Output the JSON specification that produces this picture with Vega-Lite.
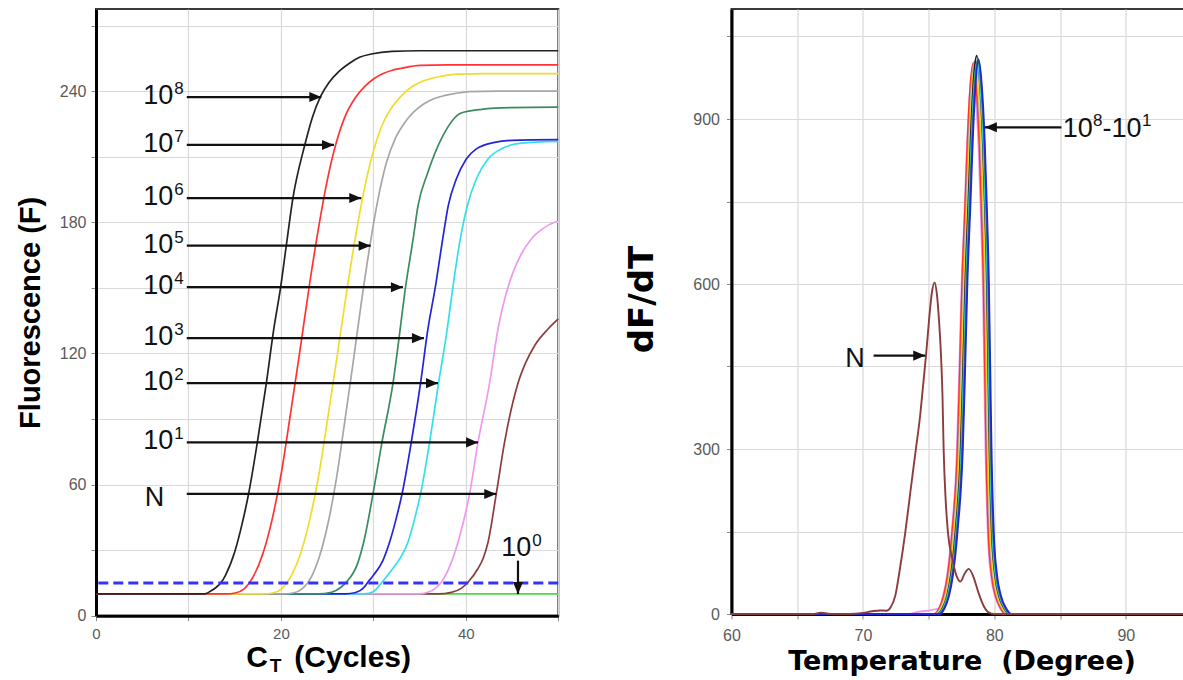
{
  "$schema": "https://vega.github.io/schema/vega-lite/v6.json",
  "background": "white",
  "padding": {"left": 15, "top": 8, "right": 0, "bottom": 0},
  "bounds": "flush",
  "spacing": 172.5,
  "config": {
    "view": {"stroke": "#3a3a3a", "strokeWidth": 2},
    "axis": {
      "labelFont": "Liberation Sans",
      "labelFontSize": 16,
      "labelColor": "#5a5a5a",
      "labelFlush": false,
      "gridColor": "#d9d9d9",
      "gridWidth": 1.2,
      "domainColor": "#000000",
      "domainWidth": 3,
      "tickColor": "#888888",
      "tickSize": 5,
      "tickWidth": 1,
      "titleColor": "#000000",
      "titleFontWeight": "bold"
    }
  },
  "datasets": {
    "amplification": [
      {"sample": "10^0", "cycle": 0, "fluor": 10}, {"sample": "10^0", "cycle": 50, "fluor": 10},

      {"sample": "N", "cycle": 0, "fluor": 10}, {"sample": "N", "cycle": 37, "fluor": 10}, {"sample": "N", "cycle": 38.43, "fluor": 10.7}, {"sample": "N", "cycle": 39.5, "fluor": 12.5}, {"sample": "N", "cycle": 40.23, "fluor": 15.3}, {"sample": "N", "cycle": 41.3, "fluor": 21.5}, {"sample": "N", "cycle": 41.9, "fluor": 26.5}, {"sample": "N", "cycle": 42.4, "fluor": 33.6}, {"sample": "N", "cycle": 43.29, "fluor": 55.7}, {"sample": "N", "cycle": 44.19, "fluor": 79.4}, {"sample": "N", "cycle": 45.64, "fluor": 106.4}, {"sample": "N", "cycle": 46.5, "fluor": 116}, {"sample": "N", "cycle": 47.5, "fluor": 124}, {"sample": "N", "cycle": 48.89, "fluor": 131.2}, {"sample": "N", "cycle": 50, "fluor": 135.8},

      {"sample": "10^1", "cycle": 0, "fluor": 10}, {"sample": "10^1", "cycle": 35, "fluor": 10}, {"sample": "10^1", "cycle": 35.9, "fluor": 10.7}, {"sample": "10^1", "cycle": 36.7, "fluor": 12.5}, {"sample": "10^1", "cycle": 37.35, "fluor": 15.3}, {"sample": "10^1", "cycle": 38.3, "fluor": 23}, {"sample": "10^1", "cycle": 39.15, "fluor": 33.6}, {"sample": "10^1", "cycle": 39.8, "fluor": 44}, {"sample": "10^1", "cycle": 40.4, "fluor": 55.7}, {"sample": "10^1", "cycle": 41.32, "fluor": 79.4}, {"sample": "10^1", "cycle": 42.57, "fluor": 106.4}, {"sample": "10^1", "cycle": 43.48, "fluor": 131.2}, {"sample": "10^1", "cycle": 44.02, "fluor": 141.8}, {"sample": "10^1", "cycle": 45.1, "fluor": 157.1}, {"sample": "10^1", "cycle": 46, "fluor": 165.5}, {"sample": "10^1", "cycle": 47.08, "fluor": 172.4}, {"sample": "10^1", "cycle": 48.3, "fluor": 177}, {"sample": "10^1", "cycle": 49.6, "fluor": 180}, {"sample": "10^1", "cycle": 50, "fluor": 180.5},

      {"sample": "10^2", "cycle": 0, "fluor": 10}, {"sample": "10^2", "cycle": 29, "fluor": 10}, {"sample": "10^2", "cycle": 30, "fluor": 11}, {"sample": "10^2", "cycle": 30.93, "fluor": 15.3}, {"sample": "10^2", "cycle": 32, "fluor": 21}, {"sample": "10^2", "cycle": 33, "fluor": 27}, {"sample": "10^2", "cycle": 33.74, "fluor": 33.6}, {"sample": "10^2", "cycle": 34.5, "fluor": 45}, {"sample": "10^2", "cycle": 35.1, "fluor": 55.7}, {"sample": "10^2", "cycle": 36.08, "fluor": 79.4}, {"sample": "10^2", "cycle": 37.05, "fluor": 106.4}, {"sample": "10^2", "cycle": 37.99, "fluor": 131.2}, {"sample": "10^2", "cycle": 38.6, "fluor": 150.3}, {"sample": "10^2", "cycle": 39.4, "fluor": 172.4}, {"sample": "10^2", "cycle": 40.16, "fluor": 187.6}, {"sample": "10^2", "cycle": 41.13, "fluor": 199.8}, {"sample": "10^2", "cycle": 42.4, "fluor": 209}, {"sample": "10^2", "cycle": 43.8, "fluor": 213.5}, {"sample": "10^2", "cycle": 46, "fluor": 216.2}, {"sample": "10^2", "cycle": 50, "fluor": 217},

      {"sample": "10^3", "cycle": 0, "fluor": 10}, {"sample": "10^3", "cycle": 27, "fluor": 10}, {"sample": "10^3", "cycle": 28, "fluor": 10.5}, {"sample": "10^3", "cycle": 29, "fluor": 13}, {"sample": "10^3", "cycle": 29.4, "fluor": 15.3}, {"sample": "10^3", "cycle": 30, "fluor": 18.5}, {"sample": "10^3", "cycle": 31, "fluor": 25}, {"sample": "10^3", "cycle": 31.75, "fluor": 33.6}, {"sample": "10^3", "cycle": 32.5, "fluor": 45}, {"sample": "10^3", "cycle": 33.1, "fluor": 55.7}, {"sample": "10^3", "cycle": 34.1, "fluor": 79.4}, {"sample": "10^3", "cycle": 35.1, "fluor": 106.4}, {"sample": "10^3", "cycle": 35.9, "fluor": 131.2}, {"sample": "10^3", "cycle": 36.7, "fluor": 150.3}, {"sample": "10^3", "cycle": 37.5, "fluor": 172.4}, {"sample": "10^3", "cycle": 38.1, "fluor": 187.6}, {"sample": "10^3", "cycle": 38.97, "fluor": 199.8}, {"sample": "10^3", "cycle": 40.05, "fluor": 209}, {"sample": "10^3", "cycle": 41.1, "fluor": 213.5}, {"sample": "10^3", "cycle": 43.1, "fluor": 216.6}, {"sample": "10^3", "cycle": 45, "fluor": 217.5}, {"sample": "10^3", "cycle": 50, "fluor": 217.8},

      {"sample": "10^4", "cycle": 0, "fluor": 10}, {"sample": "10^4", "cycle": 24, "fluor": 10}, {"sample": "10^4", "cycle": 25.45, "fluor": 10.7}, {"sample": "10^4", "cycle": 26.5, "fluor": 13}, {"sample": "10^4", "cycle": 27.07, "fluor": 15.3}, {"sample": "10^4", "cycle": 28.34, "fluor": 24.4}, {"sample": "10^4", "cycle": 28.95, "fluor": 33.6}, {"sample": "10^4", "cycle": 29.96, "fluor": 55.7}, {"sample": "10^4", "cycle": 30.93, "fluor": 79.4}, {"sample": "10^4", "cycle": 32.12, "fluor": 106.4}, {"sample": "10^4", "cycle": 32.9, "fluor": 131.2}, {"sample": "10^4", "cycle": 33.4, "fluor": 148}, {"sample": "10^4", "cycle": 34.3, "fluor": 172.4}, {"sample": "10^4", "cycle": 34.83, "fluor": 187.6}, {"sample": "10^4", "cycle": 35.9, "fluor": 202.9}, {"sample": "10^4", "cycle": 37.5, "fluor": 219.4}, {"sample": "10^4", "cycle": 39.5, "fluor": 230}, {"sample": "10^4", "cycle": 41.7, "fluor": 231.7}, {"sample": "10^4", "cycle": 45, "fluor": 232.5}, {"sample": "10^4", "cycle": 50, "fluor": 232.7},

      {"sample": "10^5", "cycle": 0, "fluor": 10}, {"sample": "10^5", "cycle": 20.3, "fluor": 10}, {"sample": "10^5", "cycle": 21.3, "fluor": 10.4}, {"sample": "10^5", "cycle": 22.3, "fluor": 12.3}, {"sample": "10^5", "cycle": 23.3, "fluor": 17.8}, {"sample": "10^5", "cycle": 24.2, "fluor": 27.5}, {"sample": "10^5", "cycle": 25.1, "fluor": 42.4}, {"sample": "10^5", "cycle": 26.0, "fluor": 62.7}, {"sample": "10^5", "cycle": 26.9, "fluor": 88.7}, {"sample": "10^5", "cycle": 27.8, "fluor": 115.6}, {"sample": "10^5", "cycle": 28.7, "fluor": 143.4}, {"sample": "10^5", "cycle": 29.6, "fluor": 168.7}, {"sample": "10^5", "cycle": 30.5, "fluor": 190.6}, {"sample": "10^5", "cycle": 31.4, "fluor": 207.1}, {"sample": "10^5", "cycle": 32.4, "fluor": 218.6}, {"sample": "10^5", "cycle": 33.4, "fluor": 225.7}, {"sample": "10^5", "cycle": 34.4, "fluor": 230.6}, {"sample": "10^5", "cycle": 35.4, "fluor": 234.0}, {"sample": "10^5", "cycle": 36.4, "fluor": 236.3}, {"sample": "10^5", "cycle": 37.4, "fluor": 237.7}, {"sample": "10^5", "cycle": 38.4, "fluor": 238.6}, {"sample": "10^5", "cycle": 40.4, "fluor": 239.8}, {"sample": "10^5", "cycle": 43.4, "fluor": 240}, {"sample": "10^5", "cycle": 50, "fluor": 240},

      {"sample": "10^6", "cycle": 0, "fluor": 10}, {"sample": "10^6", "cycle": 18.1, "fluor": 10}, {"sample": "10^6", "cycle": 19.1, "fluor": 10.4}, {"sample": "10^6", "cycle": 20.1, "fluor": 12.4}, {"sample": "10^6", "cycle": 21.1, "fluor": 18.1}, {"sample": "10^6", "cycle": 22.1, "fluor": 28.1}, {"sample": "10^6", "cycle": 23.1, "fluor": 43.6}, {"sample": "10^6", "cycle": 24.1, "fluor": 64.5}, {"sample": "10^6", "cycle": 25.1, "fluor": 91.4}, {"sample": "10^6", "cycle": 26.1, "fluor": 119.2}, {"sample": "10^6", "cycle": 27.1, "fluor": 148.0}, {"sample": "10^6", "cycle": 28.1, "fluor": 174.2}, {"sample": "10^6", "cycle": 29.1, "fluor": 196.8}, {"sample": "10^6", "cycle": 30.1, "fluor": 214.0}, {"sample": "10^6", "cycle": 31.1, "fluor": 225.9}, {"sample": "10^6", "cycle": 32.1, "fluor": 233.2}, {"sample": "10^6", "cycle": 33.1, "fluor": 238.2}, {"sample": "10^6", "cycle": 34.1, "fluor": 241.8}, {"sample": "10^6", "cycle": 35.1, "fluor": 244.2}, {"sample": "10^6", "cycle": 36.1, "fluor": 245.6}, {"sample": "10^6", "cycle": 37.1, "fluor": 246.6}, {"sample": "10^6", "cycle": 39.1, "fluor": 247.8}, {"sample": "10^6", "cycle": 42.1, "fluor": 248}, {"sample": "10^6", "cycle": 50, "fluor": 248},

      {"sample": "10^7", "cycle": 0, "fluor": 10}, {"sample": "10^7", "cycle": 14.05, "fluor": 10}, {"sample": "10^7", "cycle": 15.05, "fluor": 10.4}, {"sample": "10^7", "cycle": 16.05, "fluor": 12.4}, {"sample": "10^7", "cycle": 17.05, "fluor": 18.2}, {"sample": "10^7", "cycle": 18.05, "fluor": 28.4}, {"sample": "10^7", "cycle": 19.05, "fluor": 44.1}, {"sample": "10^7", "cycle": 20.05, "fluor": 65.4}, {"sample": "10^7", "cycle": 21.05, "fluor": 92.8}, {"sample": "10^7", "cycle": 22.05, "fluor": 121.1}, {"sample": "10^7", "cycle": 23.05, "fluor": 150.4}, {"sample": "10^7", "cycle": 24.05, "fluor": 177.0}, {"sample": "10^7", "cycle": 25.05, "fluor": 200.0}, {"sample": "10^7", "cycle": 26.05, "fluor": 217.4}, {"sample": "10^7", "cycle": 27.05, "fluor": 229.5}, {"sample": "10^7", "cycle": 28.05, "fluor": 237.0}, {"sample": "10^7", "cycle": 29.05, "fluor": 242.1}, {"sample": "10^7", "cycle": 30.05, "fluor": 245.7}, {"sample": "10^7", "cycle": 31.05, "fluor": 248.1}, {"sample": "10^7", "cycle": 32.05, "fluor": 249.6}, {"sample": "10^7", "cycle": 33.05, "fluor": 250.5}, {"sample": "10^7", "cycle": 35.05, "fluor": 251.8}, {"sample": "10^7", "cycle": 38.05, "fluor": 252}, {"sample": "10^7", "cycle": 50, "fluor": 252},

      {"sample": "10^8", "cycle": 0, "fluor": 10}, {"sample": "10^8", "cycle": 11, "fluor": 10}, {"sample": "10^8", "cycle": 11.75, "fluor": 10}, {"sample": "10^8", "cycle": 12.5, "fluor": 11.5}, {"sample": "10^8", "cycle": 13, "fluor": 13}, {"sample": "10^8", "cycle": 13.55, "fluor": 15.3}, {"sample": "10^8", "cycle": 14, "fluor": 18.5}, {"sample": "10^8", "cycle": 14.99, "fluor": 29}, {"sample": "10^8", "cycle": 15.8, "fluor": 42}, {"sample": "10^8", "cycle": 16.5, "fluor": 55.7}, {"sample": "10^8", "cycle": 17.45, "fluor": 79.3}, {"sample": "10^8", "cycle": 18.42, "fluor": 106.3}, {"sample": "10^8", "cycle": 19.23, "fluor": 131.2}, {"sample": "10^8", "cycle": 19.97, "fluor": 150.3}, {"sample": "10^8", "cycle": 20.58, "fluor": 169.3}, {"sample": "10^8", "cycle": 21.31, "fluor": 191.4}, {"sample": "10^8", "cycle": 22.56, "fluor": 215}, {"sample": "10^8", "cycle": 23.4, "fluor": 228}, {"sample": "10^8", "cycle": 24.29, "fluor": 237.6}, {"sample": "10^8", "cycle": 25.2, "fluor": 244}, {"sample": "10^8", "cycle": 26.17, "fluor": 248.6}, {"sample": "10^8", "cycle": 27.5, "fluor": 253}, {"sample": "10^8", "cycle": 28.5, "fluor": 255.5}, {"sample": "10^8", "cycle": 29.78, "fluor": 257}, {"sample": "10^8", "cycle": 32, "fluor": 258.2}, {"sample": "10^8", "cycle": 35, "fluor": 258.5}, {"sample": "10^8", "cycle": 50, "fluor": 258.5}
    ],
    "threshold": [{"fluor": 15}],
    "ampArrows": [
      {"cycle": 9.82, "fluor": 237.3, "cycleEnd": 24.37, "fluorEnd": 237.3, "dir": "right"},
      {"cycle": 9.82, "fluor": 215.4, "cycleEnd": 25.74, "fluorEnd": 215.4, "dir": "right"},
      {"cycle": 9.82, "fluor": 191.1, "cycleEnd": 28.69, "fluorEnd": 191.1, "dir": "right"},
      {"cycle": 9.82, "fluor": 169.3, "cycleEnd": 29.7, "fluorEnd": 169.3, "dir": "right"},
      {"cycle": 9.82, "fluor": 150.3, "cycleEnd": 33.2, "fluorEnd": 150.3, "dir": "right"},
      {"cycle": 9.82, "fluor": 127.0, "cycleEnd": 35.47, "fluorEnd": 127.0, "dir": "right"},
      {"cycle": 9.82, "fluor": 106.4, "cycleEnd": 36.99, "fluorEnd": 106.4, "dir": "right"},
      {"cycle": 9.82, "fluor": 79.3, "cycleEnd": 41.32, "fluorEnd": 79.3, "dir": "right"},
      {"cycle": 9.82, "fluor": 55.7, "cycleEnd": 43.29, "fluorEnd": 55.7, "dir": "right"},
      {"cycle": 45.64, "fluor": 25.2, "cycleEnd": 45.64, "fluorEnd": 9.9, "dir": "down"}
    ],
    "ampText": [
      {"kind": "base", "text": "10", "cycle": 5.12, "fluor": 234.1}, {"kind": "sup", "text": "8", "cycle": 8.47, "fluor": 238.7},
      {"kind": "base", "text": "10", "cycle": 5.12, "fluor": 212.2}, {"kind": "sup", "text": "7", "cycle": 8.47, "fluor": 216.8},
      {"kind": "base", "text": "10", "cycle": 5.12, "fluor": 187.9}, {"kind": "sup", "text": "6", "cycle": 8.47, "fluor": 192.5},
      {"kind": "base", "text": "10", "cycle": 5.12, "fluor": 166.1}, {"kind": "sup", "text": "5", "cycle": 8.47, "fluor": 170.7},
      {"kind": "base", "text": "10", "cycle": 5.12, "fluor": 147.1}, {"kind": "sup", "text": "4", "cycle": 8.47, "fluor": 151.7},
      {"kind": "base", "text": "10", "cycle": 5.12, "fluor": 123.8}, {"kind": "sup", "text": "3", "cycle": 8.47, "fluor": 128.4},
      {"kind": "base", "text": "10", "cycle": 5.12, "fluor": 103.2}, {"kind": "sup", "text": "2", "cycle": 8.47, "fluor": 107.8},
      {"kind": "base", "text": "10", "cycle": 5.12, "fluor": 76.1}, {"kind": "sup", "text": "1", "cycle": 8.47, "fluor": 80.7},
      {"kind": "base", "text": "N", "cycle": 5.28, "fluor": 50.3},
      {"kind": "base", "text": "10", "cycle": 43.83, "fluor": 27.45}, {"kind": "sup", "text": "0", "cycle": 47.19, "fluor": 32.0},
      {"kind": "title", "text": "C", "cycle": 16.26, "fluor": -23.5},
      {"kind": "sub", "text": "T", "cycle": 18.8, "fluor": -25.8},
      {"kind": "title", "text": "(Cycles)", "cycle": 21.45, "fluor": -23.5}
    ],
    "melt": [
      {"run": "10^1", "temp": 60, "dfdt": 0}, {"run": "10^1", "temp": 73.5, "dfdt": 0}, {"run": "10^1", "temp": 74.2, "dfdt": 4}, {"run": "10^1", "temp": 74.9, "dfdt": 6}, {"run": "10^1", "temp": 75.35, "dfdt": 8}, {"run": "10^1", "temp": 75.75, "dfdt": 10}, {"run": "10^1", "temp": 76.1, "dfdt": 33}, {"run": "10^1", "temp": 76.4, "dfdt": 69}, {"run": "10^1", "temp": 76.75, "dfdt": 148}, {"run": "10^1", "temp": 77.15, "dfdt": 296}, {"run": "10^1", "temp": 77.3, "dfdt": 414}, {"run": "10^1", "temp": 77.5, "dfdt": 591}, {"run": "10^1", "temp": 77.73, "dfdt": 729}, {"run": "10^1", "temp": 77.9, "dfdt": 837}, {"run": "10^1", "temp": 78.13, "dfdt": 946}, {"run": "10^1", "temp": 78.35, "dfdt": 985}, {"run": "10^1", "temp": 78.57, "dfdt": 946}, {"run": "10^1", "temp": 78.82, "dfdt": 837}, {"run": "10^1", "temp": 78.97, "dfdt": 729}, {"run": "10^1", "temp": 79.13, "dfdt": 591}, {"run": "10^1", "temp": 79.25, "dfdt": 414}, {"run": "10^1", "temp": 79.33, "dfdt": 296}, {"run": "10^1", "temp": 79.5, "dfdt": 148}, {"run": "10^1", "temp": 79.75, "dfdt": 69}, {"run": "10^1", "temp": 80.05, "dfdt": 33}, {"run": "10^1", "temp": 80.45, "dfdt": 10}, {"run": "10^1", "temp": 80.85, "dfdt": 0}, {"run": "10^1", "temp": 95, "dfdt": 0},

      {"run": "10^7", "temp": 60, "dfdt": 0}, {"run": "10^7", "temp": 75.4, "dfdt": 0}, {"run": "10^7", "temp": 75.8, "dfdt": 10}, {"run": "10^7", "temp": 76.15, "dfdt": 33}, {"run": "10^7", "temp": 76.45, "dfdt": 70}, {"run": "10^7", "temp": 76.8, "dfdt": 150}, {"run": "10^7", "temp": 77.2, "dfdt": 301}, {"run": "10^7", "temp": 77.35, "dfdt": 421}, {"run": "10^7", "temp": 77.55, "dfdt": 601}, {"run": "10^7", "temp": 77.78, "dfdt": 741}, {"run": "10^7", "temp": 77.95, "dfdt": 852}, {"run": "10^7", "temp": 78.18, "dfdt": 962}, {"run": "10^7", "temp": 78.4, "dfdt": 1002}, {"run": "10^7", "temp": 78.62, "dfdt": 962}, {"run": "10^7", "temp": 78.87, "dfdt": 852}, {"run": "10^7", "temp": 79.02, "dfdt": 741}, {"run": "10^7", "temp": 79.18, "dfdt": 601}, {"run": "10^7", "temp": 79.3, "dfdt": 421}, {"run": "10^7", "temp": 79.38, "dfdt": 301}, {"run": "10^7", "temp": 79.55, "dfdt": 150}, {"run": "10^7", "temp": 79.8, "dfdt": 70}, {"run": "10^7", "temp": 80.1, "dfdt": 33}, {"run": "10^7", "temp": 80.5, "dfdt": 10}, {"run": "10^7", "temp": 80.9, "dfdt": 0}, {"run": "10^7", "temp": 95, "dfdt": 0},

      {"run": "10^5", "temp": 60, "dfdt": 0}, {"run": "10^5", "temp": 75.5, "dfdt": 0}, {"run": "10^5", "temp": 75.9, "dfdt": 10}, {"run": "10^5", "temp": 76.25, "dfdt": 33}, {"run": "10^5", "temp": 76.55, "dfdt": 70}, {"run": "10^5", "temp": 76.9, "dfdt": 151}, {"run": "10^5", "temp": 77.3, "dfdt": 302}, {"run": "10^5", "temp": 77.45, "dfdt": 422}, {"run": "10^5", "temp": 77.65, "dfdt": 603}, {"run": "10^5", "temp": 77.88, "dfdt": 744}, {"run": "10^5", "temp": 78.05, "dfdt": 854}, {"run": "10^5", "temp": 78.28, "dfdt": 965}, {"run": "10^5", "temp": 78.5, "dfdt": 1005}, {"run": "10^5", "temp": 78.72, "dfdt": 965}, {"run": "10^5", "temp": 78.97, "dfdt": 854}, {"run": "10^5", "temp": 79.12, "dfdt": 744}, {"run": "10^5", "temp": 79.28, "dfdt": 603}, {"run": "10^5", "temp": 79.4, "dfdt": 422}, {"run": "10^5", "temp": 79.48, "dfdt": 302}, {"run": "10^5", "temp": 79.65, "dfdt": 151}, {"run": "10^5", "temp": 79.9, "dfdt": 70}, {"run": "10^5", "temp": 80.2, "dfdt": 33}, {"run": "10^5", "temp": 80.6, "dfdt": 10}, {"run": "10^5", "temp": 81.0, "dfdt": 0}, {"run": "10^5", "temp": 95, "dfdt": 0},

      {"run": "10^6", "temp": 60, "dfdt": 0}, {"run": "10^6", "temp": 75.55, "dfdt": 0}, {"run": "10^6", "temp": 75.95, "dfdt": 10}, {"run": "10^6", "temp": 76.3, "dfdt": 33}, {"run": "10^6", "temp": 76.6, "dfdt": 70}, {"run": "10^6", "temp": 76.95, "dfdt": 150}, {"run": "10^6", "temp": 77.35, "dfdt": 300}, {"run": "10^6", "temp": 77.5, "dfdt": 420}, {"run": "10^6", "temp": 77.7, "dfdt": 600}, {"run": "10^6", "temp": 77.93, "dfdt": 740}, {"run": "10^6", "temp": 78.1, "dfdt": 850}, {"run": "10^6", "temp": 78.33, "dfdt": 960}, {"run": "10^6", "temp": 78.55, "dfdt": 1000}, {"run": "10^6", "temp": 78.77, "dfdt": 960}, {"run": "10^6", "temp": 79.02, "dfdt": 850}, {"run": "10^6", "temp": 79.17, "dfdt": 740}, {"run": "10^6", "temp": 79.33, "dfdt": 600}, {"run": "10^6", "temp": 79.45, "dfdt": 420}, {"run": "10^6", "temp": 79.53, "dfdt": 300}, {"run": "10^6", "temp": 79.7, "dfdt": 150}, {"run": "10^6", "temp": 79.95, "dfdt": 70}, {"run": "10^6", "temp": 80.25, "dfdt": 33}, {"run": "10^6", "temp": 80.65, "dfdt": 10}, {"run": "10^6", "temp": 81.05, "dfdt": 0}, {"run": "10^6", "temp": 95, "dfdt": 0},

      {"run": "10^8", "temp": 60, "dfdt": 0}, {"run": "10^8", "temp": 75.65, "dfdt": 0}, {"run": "10^8", "temp": 76.05, "dfdt": 10}, {"run": "10^8", "temp": 76.4, "dfdt": 33}, {"run": "10^8", "temp": 76.7, "dfdt": 71}, {"run": "10^8", "temp": 77.05, "dfdt": 152}, {"run": "10^8", "temp": 77.45, "dfdt": 305}, {"run": "10^8", "temp": 77.6, "dfdt": 426}, {"run": "10^8", "temp": 77.8, "dfdt": 609}, {"run": "10^8", "temp": 78.03, "dfdt": 751}, {"run": "10^8", "temp": 78.2, "dfdt": 863}, {"run": "10^8", "temp": 78.43, "dfdt": 974}, {"run": "10^8", "temp": 78.65, "dfdt": 1015}, {"run": "10^8", "temp": 78.87, "dfdt": 974}, {"run": "10^8", "temp": 79.12, "dfdt": 863}, {"run": "10^8", "temp": 79.27, "dfdt": 751}, {"run": "10^8", "temp": 79.43, "dfdt": 609}, {"run": "10^8", "temp": 79.55, "dfdt": 426}, {"run": "10^8", "temp": 79.63, "dfdt": 305}, {"run": "10^8", "temp": 79.8, "dfdt": 152}, {"run": "10^8", "temp": 80.05, "dfdt": 71}, {"run": "10^8", "temp": 80.35, "dfdt": 33}, {"run": "10^8", "temp": 80.75, "dfdt": 10}, {"run": "10^8", "temp": 81.15, "dfdt": 0}, {"run": "10^8", "temp": 95, "dfdt": 0},

      {"run": "10^2", "temp": 60, "dfdt": 0}, {"run": "10^2", "temp": 75.7, "dfdt": 0}, {"run": "10^2", "temp": 76.1, "dfdt": 10}, {"run": "10^2", "temp": 76.45, "dfdt": 33}, {"run": "10^2", "temp": 76.75, "dfdt": 70}, {"run": "10^2", "temp": 77.1, "dfdt": 150}, {"run": "10^2", "temp": 77.5, "dfdt": 301}, {"run": "10^2", "temp": 77.65, "dfdt": 421}, {"run": "10^2", "temp": 77.85, "dfdt": 602}, {"run": "10^2", "temp": 78.08, "dfdt": 742}, {"run": "10^2", "temp": 78.25, "dfdt": 853}, {"run": "10^2", "temp": 78.48, "dfdt": 963}, {"run": "10^2", "temp": 78.7, "dfdt": 1003}, {"run": "10^2", "temp": 78.92, "dfdt": 963}, {"run": "10^2", "temp": 79.17, "dfdt": 853}, {"run": "10^2", "temp": 79.32, "dfdt": 742}, {"run": "10^2", "temp": 79.48, "dfdt": 602}, {"run": "10^2", "temp": 79.6, "dfdt": 421}, {"run": "10^2", "temp": 79.68, "dfdt": 301}, {"run": "10^2", "temp": 79.85, "dfdt": 150}, {"run": "10^2", "temp": 80.1, "dfdt": 70}, {"run": "10^2", "temp": 80.4, "dfdt": 33}, {"run": "10^2", "temp": 80.8, "dfdt": 10}, {"run": "10^2", "temp": 81.2, "dfdt": 0}, {"run": "10^2", "temp": 95, "dfdt": 0},

      {"run": "10^4", "temp": 60, "dfdt": 0}, {"run": "10^4", "temp": 75.75, "dfdt": 0}, {"run": "10^4", "temp": 76.15, "dfdt": 10}, {"run": "10^4", "temp": 76.5, "dfdt": 33}, {"run": "10^4", "temp": 76.8, "dfdt": 71}, {"run": "10^4", "temp": 77.15, "dfdt": 152}, {"run": "10^4", "temp": 77.55, "dfdt": 303}, {"run": "10^4", "temp": 77.7, "dfdt": 424}, {"run": "10^4", "temp": 77.9, "dfdt": 606}, {"run": "10^4", "temp": 78.13, "dfdt": 747}, {"run": "10^4", "temp": 78.3, "dfdt": 859}, {"run": "10^4", "temp": 78.53, "dfdt": 970}, {"run": "10^4", "temp": 78.75, "dfdt": 1010}, {"run": "10^4", "temp": 78.97, "dfdt": 970}, {"run": "10^4", "temp": 79.22, "dfdt": 859}, {"run": "10^4", "temp": 79.37, "dfdt": 747}, {"run": "10^4", "temp": 79.53, "dfdt": 606}, {"run": "10^4", "temp": 79.65, "dfdt": 424}, {"run": "10^4", "temp": 79.73, "dfdt": 303}, {"run": "10^4", "temp": 79.9, "dfdt": 152}, {"run": "10^4", "temp": 80.15, "dfdt": 71}, {"run": "10^4", "temp": 80.45, "dfdt": 33}, {"run": "10^4", "temp": 80.85, "dfdt": 10}, {"run": "10^4", "temp": 81.25, "dfdt": 0}, {"run": "10^4", "temp": 95, "dfdt": 0},

      {"run": "10^3", "temp": 60, "dfdt": 0}, {"run": "10^3", "temp": 75.8, "dfdt": 0}, {"run": "10^3", "temp": 76.2, "dfdt": 10}, {"run": "10^3", "temp": 76.55, "dfdt": 33}, {"run": "10^3", "temp": 76.85, "dfdt": 71}, {"run": "10^3", "temp": 77.2, "dfdt": 151}, {"run": "10^3", "temp": 77.6, "dfdt": 302}, {"run": "10^3", "temp": 77.75, "dfdt": 423}, {"run": "10^3", "temp": 77.95, "dfdt": 605}, {"run": "10^3", "temp": 78.18, "dfdt": 746}, {"run": "10^3", "temp": 78.35, "dfdt": 857}, {"run": "10^3", "temp": 78.58, "dfdt": 968}, {"run": "10^3", "temp": 78.8, "dfdt": 1008}, {"run": "10^3", "temp": 79.02, "dfdt": 968}, {"run": "10^3", "temp": 79.27, "dfdt": 857}, {"run": "10^3", "temp": 79.42, "dfdt": 746}, {"run": "10^3", "temp": 79.58, "dfdt": 605}, {"run": "10^3", "temp": 79.7, "dfdt": 423}, {"run": "10^3", "temp": 79.78, "dfdt": 302}, {"run": "10^3", "temp": 79.95, "dfdt": 151}, {"run": "10^3", "temp": 80.2, "dfdt": 71}, {"run": "10^3", "temp": 80.5, "dfdt": 33}, {"run": "10^3", "temp": 80.9, "dfdt": 10}, {"run": "10^3", "temp": 81.3, "dfdt": 0}, {"run": "10^3", "temp": 95, "dfdt": 0},

      {"run": "N", "temp": 60, "dfdt": 0}, {"run": "N", "temp": 66.2, "dfdt": 0}, {"run": "N", "temp": 66.8, "dfdt": 2.5}, {"run": "N", "temp": 67.5, "dfdt": 0.3}, {"run": "N", "temp": 69, "dfdt": 0}, {"run": "N", "temp": 70, "dfdt": 2}, {"run": "N", "temp": 70.7, "dfdt": 5}, {"run": "N", "temp": 71.3, "dfdt": 6.5}, {"run": "N", "temp": 71.8, "dfdt": 6}, {"run": "N", "temp": 72.1, "dfdt": 12}, {"run": "N", "temp": 72.46, "dfdt": 33}, {"run": "N", "temp": 72.8, "dfdt": 80}, {"run": "N", "temp": 73.22, "dfdt": 148}, {"run": "N", "temp": 73.6, "dfdt": 220}, {"run": "N", "temp": 74.03, "dfdt": 300}, {"run": "N", "temp": 74.35, "dfdt": 360}, {"run": "N", "temp": 74.6, "dfdt": 421}, {"run": "N", "temp": 74.8, "dfdt": 470}, {"run": "N", "temp": 75.05, "dfdt": 540}, {"run": "N", "temp": 75.25, "dfdt": 585}, {"run": "N", "temp": 75.45, "dfdt": 603}, {"run": "N", "temp": 75.62, "dfdt": 583}, {"run": "N", "temp": 75.8, "dfdt": 530}, {"run": "N", "temp": 75.95, "dfdt": 465}, {"run": "N", "temp": 76.05, "dfdt": 400}, {"run": "N", "temp": 76.14, "dfdt": 300}, {"run": "N", "temp": 76.3, "dfdt": 205}, {"run": "N", "temp": 76.47, "dfdt": 148}, {"run": "N", "temp": 76.8, "dfdt": 100}, {"run": "N", "temp": 77.16, "dfdt": 67}, {"run": "N", "temp": 77.41, "dfdt": 59}, {"run": "N", "temp": 77.75, "dfdt": 74}, {"run": "N", "temp": 78.05, "dfdt": 82}, {"run": "N", "temp": 78.4, "dfdt": 68}, {"run": "N", "temp": 78.8, "dfdt": 38}, {"run": "N", "temp": 79.2, "dfdt": 14}, {"run": "N", "temp": 79.56, "dfdt": 3}, {"run": "N", "temp": 80, "dfdt": 0}, {"run": "N", "temp": 95, "dfdt": 0}
    ],
    "meltArrows": [
      {"temp": 85.1, "dfdt": 884.9, "tempEnd": 79.28, "dfdtEnd": 884.9, "dir": "left"},
      {"temp": 70.81, "dfdt": 469.8, "tempEnd": 74.74, "dfdtEnd": 469.8, "dir": "right"}
    ],
    "meltText": [
      {"kind": "base", "text": "10", "temp": 85.21, "dfdt": 868.0},
      {"kind": "sup", "text": "8", "temp": 87.51, "dfdt": 887.3},
      {"kind": "base", "text": "-10", "temp": 88.23, "dfdt": 868.0},
      {"kind": "sup", "text": "1", "temp": 91.24, "dfdt": 887.3},
      {"kind": "base", "text": "N", "temp": 68.66, "dfdt": 448.5}
    ]
  },
  "hconcat": [
    {
      "width": 462.3,
      "height": 606.7,
      "layer": [
        {
          "data": {"name": "amplification"},
          "mark": {"type": "line", "interpolate": "monotone", "strokeWidth": 1.7},
          "encoding": {
            "x": {
              "field": "cycle", "type": "quantitative",
              "scale": {"domain": [0, 50], "nice": false, "zero": false},
              "axis": {
                "values": [0, 10, 20, 30, 40, 50],
                "labelExpr": "datum.value % 20 === 0 ? datum.label : ''",
                "title": null, "labelPadding": 6, "labelFontSize": 15
              }
            },
            "y": {
              "field": "fluor", "type": "quantitative",
              "scale": {"domain": [0, 277.6], "nice": false, "zero": false},
              "axis": {
                "values": [0, 30, 60, 90, 120, 150, 180, 210, 240, 270],
                "labelExpr": "datum.value % 60 === 0 ? datum.label : ''",
                "title": "Fluorescence (F)",
                "titleFont": "Liberation Sans", "titleFontSize": 29, "titlePadding": 14,
                "labelPadding": 5
              }
            },
            "color": {
              "field": "sample", "type": "nominal",
              "scale": {
                "domain": ["10^0", "N", "10^1", "10^2", "10^3", "10^4", "10^5", "10^6", "10^7", "10^8"],
                "range": ["#44dd44", "#8c3c3c", "#ee99ee", "#33e0e8", "#2424d8", "#3a8a62", "#a6a6a6", "#f2dc2a", "#ff3333", "#222222"]
              },
              "legend": null
            }
          }
        },
        {
          "data": {"name": "threshold"},
          "mark": {"type": "rule", "color": "#3333ff", "strokeWidth": 3, "strokeDash": [10, 5]},
          "encoding": {
            "y": {"field": "fluor", "type": "quantitative", "scale": {"domain": [0, 277.6], "nice": false, "zero": false}}
          }
        },
        {
          "data": {"name": "ampArrows"},
          "mark": {"type": "rule", "color": "#111111", "strokeWidth": 2.2},
          "encoding": {
            "x": {"field": "cycle", "type": "quantitative", "scale": {"domain": [0, 50], "nice": false, "zero": false}},
            "x2": {"field": "cycleEnd"},
            "y": {"field": "fluor", "type": "quantitative", "scale": {"domain": [0, 277.6], "nice": false, "zero": false}},
            "y2": {"field": "fluorEnd"}
          }
        },
        {
          "data": {"name": "ampArrows"},
          "mark": {"type": "point", "filled": true, "color": "#111111", "opacity": 1, "size": 576},
          "encoding": {
            "x": {"field": "cycleEnd", "type": "quantitative", "scale": {"domain": [0, 50], "nice": false, "zero": false}},
            "y": {"field": "fluorEnd", "type": "quantitative", "scale": {"domain": [0, 277.6], "nice": false, "zero": false}},
            "shape": {
              "field": "dir", "type": "nominal",
              "scale": {"domain": ["right", "left", "down"], "range": ["M0,0L-1,-0.42L-1,0.42Z", "M0,0L1,-0.42L1,0.42Z", "M0,0L-0.42,-1L0.42,-1Z"]},
              "legend": null
            }
          }
        },
        {
          "data": {"name": "ampText"},
          "transform": [{"filter": "datum.kind === 'base'"}],
          "mark": {"type": "text", "align": "left", "baseline": "alphabetic", "font": "Liberation Sans", "fontSize": 27, "color": "#111111"},
          "encoding": {
            "x": {"field": "cycle", "type": "quantitative", "scale": {"domain": [0, 50], "nice": false, "zero": false}},
            "y": {"field": "fluor", "type": "quantitative", "scale": {"domain": [0, 277.6], "nice": false, "zero": false}},
            "text": {"field": "text"}
          }
        },
        {
          "data": {"name": "ampText"},
          "transform": [{"filter": "datum.kind === 'sup'"}],
          "mark": {"type": "text", "align": "left", "baseline": "alphabetic", "font": "Liberation Sans", "fontSize": 17, "color": "#111111"},
          "encoding": {
            "x": {"field": "cycle", "type": "quantitative", "scale": {"domain": [0, 50], "nice": false, "zero": false}},
            "y": {"field": "fluor", "type": "quantitative", "scale": {"domain": [0, 277.6], "nice": false, "zero": false}},
            "text": {"field": "text"}
          }
        },
        {
          "data": {"name": "ampText"},
          "transform": [{"filter": "datum.kind === 'title'"}],
          "mark": {"type": "text", "align": "left", "baseline": "alphabetic", "font": "Liberation Sans", "fontWeight": "bold", "fontSize": 30, "color": "#000000"},
          "encoding": {
            "x": {"field": "cycle", "type": "quantitative", "scale": {"domain": [0, 50], "nice": false, "zero": false}},
            "y": {"field": "fluor", "type": "quantitative", "scale": {"domain": [0, 277.6], "nice": false, "zero": false}},
            "text": {"field": "text"}
          }
        },
        {
          "data": {"name": "ampText"},
          "transform": [{"filter": "datum.kind === 'sub'"}],
          "mark": {"type": "text", "align": "left", "baseline": "alphabetic", "font": "Liberation Sans", "fontWeight": "bold", "fontSize": 19, "color": "#000000"},
          "encoding": {
            "x": {"field": "cycle", "type": "quantitative", "scale": {"domain": [0, 50], "nice": false, "zero": false}},
            "y": {"field": "fluor", "type": "quantitative", "scale": {"domain": [0, 277.6], "nice": false, "zero": false}},
            "text": {"field": "text"}
          }
        }
      ]
    },
    {
      "width": 460,
      "height": 605,
      "layer": [
        {
          "data": {"name": "melt"},
          "mark": {"type": "line", "interpolate": "monotone", "strokeWidth": 1.9},
          "encoding": {
            "x": {
              "field": "temp", "type": "quantitative",
              "scale": {"domain": [60, 95], "nice": false, "zero": false},
              "axis": {
                "values": [60, 65, 70, 75, 80, 85, 90, 95],
                "labelExpr": "datum.value % 10 === 0 ? datum.label : ''",
                "title": "Temperature\u00a0 (Degree)",
                "titleFont": "DejaVu Sans", "titleFontSize": 27, "titlePadding": 5,
                "labelPadding": 8
              }
            },
            "y": {
              "field": "dfdt", "type": "quantitative",
              "scale": {"domain": [0, 1100], "nice": false, "zero": false},
              "axis": {
                "values": [0, 150, 300, 450, 600, 750, 900, 1050],
                "labelExpr": "datum.value % 300 === 0 ? datum.label : ''",
                "title": "dF/dT",
                "titleFont": "DejaVu Sans", "titleFontSize": 34, "titlePadding": 33, "titleY": 290,
                "labelPadding": 7
              }
            },
            "color": {
              "field": "run", "type": "nominal",
              "scale": {
                "domain": ["10^1", "10^7", "10^5", "10^6", "10^8", "10^2", "10^4", "10^3", "N"],
                "range": ["#ff7fa8", "#ff2020", "#3232c8", "#ff8c1a", "#1a1a1a", "#a00000", "#1fae9a", "#2fb52f", "#8b3b3b"]
              },
              "legend": null
            }
          }
        },
        {
          "data": {"name": "meltArrows"},
          "mark": {"type": "rule", "color": "#111111", "strokeWidth": 2.2},
          "encoding": {
            "x": {"field": "temp", "type": "quantitative", "scale": {"domain": [60, 95], "nice": false, "zero": false}},
            "x2": {"field": "tempEnd"},
            "y": {"field": "dfdt", "type": "quantitative", "scale": {"domain": [0, 1100], "nice": false, "zero": false}},
            "y2": {"field": "dfdtEnd"}
          }
        },
        {
          "data": {"name": "meltArrows"},
          "mark": {"type": "point", "filled": true, "color": "#111111", "opacity": 1, "size": 576},
          "encoding": {
            "x": {"field": "tempEnd", "type": "quantitative", "scale": {"domain": [60, 95], "nice": false, "zero": false}},
            "y": {"field": "dfdtEnd", "type": "quantitative", "scale": {"domain": [0, 1100], "nice": false, "zero": false}},
            "shape": {
              "field": "dir", "type": "nominal",
              "scale": {"domain": ["right", "left"], "range": ["M0,0L-1,-0.42L-1,0.42Z", "M0,0L1,-0.42L1,0.42Z"]},
              "legend": null
            }
          }
        },
        {
          "data": {"name": "meltText"},
          "transform": [{"filter": "datum.kind === 'base'"}],
          "mark": {"type": "text", "align": "left", "baseline": "alphabetic", "font": "Liberation Sans", "fontSize": 27, "color": "#111111"},
          "encoding": {
            "x": {"field": "temp", "type": "quantitative", "scale": {"domain": [60, 95], "nice": false, "zero": false}},
            "y": {"field": "dfdt", "type": "quantitative", "scale": {"domain": [0, 1100], "nice": false, "zero": false}},
            "text": {"field": "text"}
          }
        },
        {
          "data": {"name": "meltText"},
          "transform": [{"filter": "datum.kind === 'sup'"}],
          "mark": {"type": "text", "align": "left", "baseline": "alphabetic", "font": "Liberation Sans", "fontSize": 17, "color": "#111111"},
          "encoding": {
            "x": {"field": "temp", "type": "quantitative", "scale": {"domain": [60, 95], "nice": false, "zero": false}},
            "y": {"field": "dfdt", "type": "quantitative", "scale": {"domain": [0, 1100], "nice": false, "zero": false}},
            "text": {"field": "text"}
          }
        }
      ]
    }
  ]
}
